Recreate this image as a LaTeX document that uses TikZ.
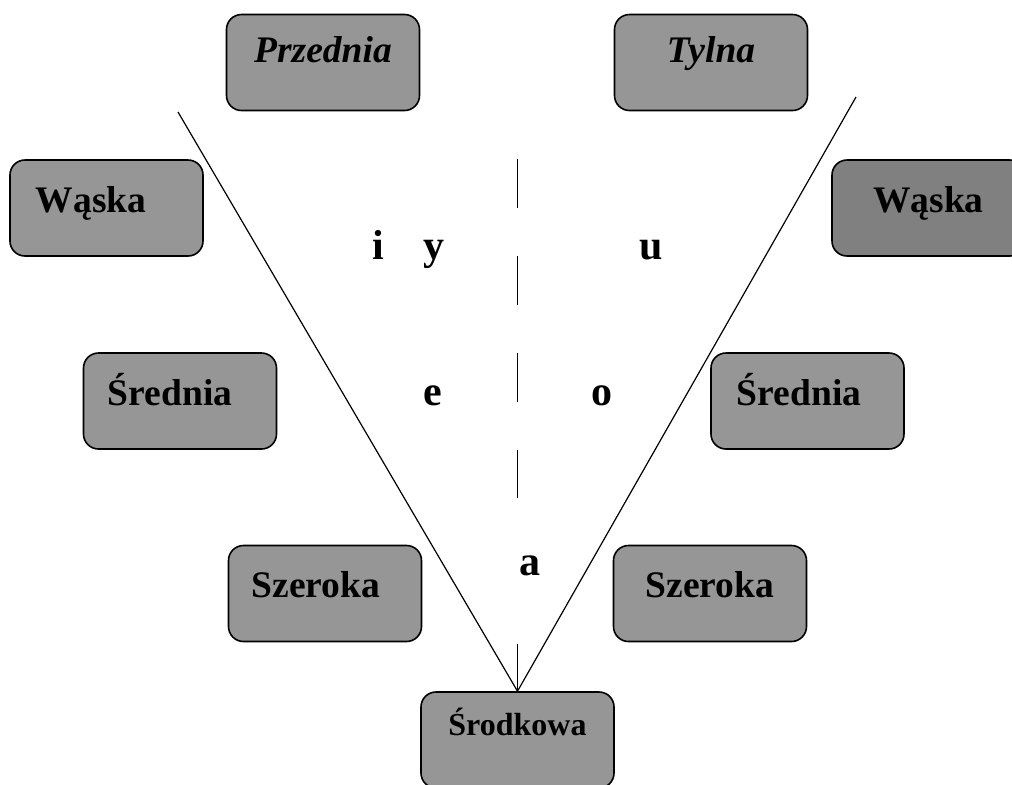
\documentclass[tikz,border=0pt]{standalone}
\usepackage{fontspec}
\setmainfont{Liberation Serif}
\usepackage{tikz}

\definecolor{boxgray}{HTML}{969696}
\definecolor{boxdark}{HTML}{808080}

% text pushed a little to the left inside its box
\newcommand{\lefttext}[2]{#2\hspace{#1}\mbox{}}

\tikzset{
  box/.style={draw, line width=0.8pt, rounded corners=7.5pt, fill=boxgray,
    minimum width=96.5pt, minimum height=48pt, inner sep=0pt,
    text height=26pt, text depth=22pt,
    font=\fontsize{18.75}{22}\selectfont\bfseries},
  vowel/.style={anchor=base, inner sep=0pt, font=\fontsize{21}{24}\selectfont\bfseries}
}

\begin{document}
\begin{tikzpicture}[x=0.5pt,y=-0.5pt]
\useasboundingbox (0,0) rectangle (1012,784);

\node[box,text height=24pt,text depth=24pt] (przednia) at (323,62.5) {\itshape Przednia};
\node[box,text height=24pt,text depth=24pt] (tylna) at (711,62.5) {\itshape Tylna};

\node[box] (waskaL) at (106.5,208) {\lefttext{15.5pt}{W\k{a}ska}};
\node[box,fill=boxdark] (waskaR) at (928.5,208) {W\k{a}ska};

\node[box] (sredniaL) at (180,401) {\lefttext{10pt}{\'Srednia}};
\node[box] (sredniaR) at (807.5,401) {\lefttext{8.5pt}{\'Srednia}};

\node[box] (szerokaL) at (325,593.5) {\lefttext{9pt}{Szeroka}};
\node[box] (szerokaR) at (710,593.5) {Szeroka};

\node[box,text height=21.5pt,text depth=26.5pt,
  font=\fontsize{16}{19}\selectfont\bfseries] (srodkowa) at (517.5,740) {\'Srodkowa};

\coordinate (lt) at (178,112);
\coordinate (rt) at (856,97);
\draw[line width=0.6pt] (lt) -- (srodkowa.north) -- (rt);

\coordinate (dtop) at (517.5,159);
\coordinate (dbot) at (517.5,498);
\coordinate (stub) at (517.5,644);
\draw[line width=0.6pt, dash pattern=on 24.5pt off 24pt] (dtop) -- (dbot);
\draw[line width=0.6pt] (stub) -- (srodkowa.north);

\node[vowel] (i) at (378,259) {i};
\node[vowel] (y) at (434,259) {y};
\node[vowel] (u) at (651,259) {u};
\node[vowel] (e) at (433,405) {e};
\node[vowel] (o) at (602,405) {o};
\node[vowel] (a) at (530,575) {a};
\end{tikzpicture}
\end{document}
